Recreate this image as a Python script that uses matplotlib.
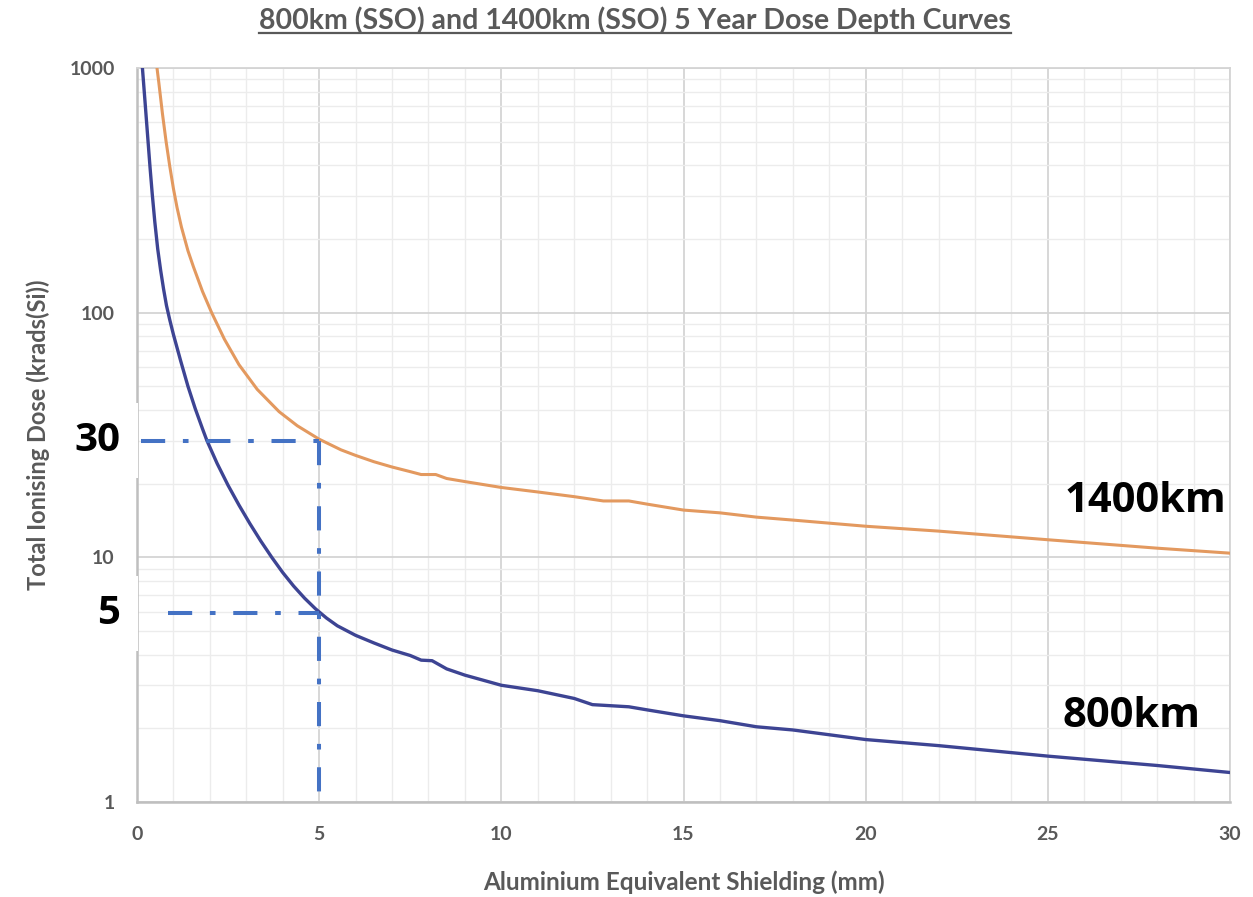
import matplotlib
matplotlib.use("Agg")
import matplotlib.pyplot as plt
import matplotlib.transforms as mtrans
from matplotlib.ticker import FixedLocator, LogLocator, NullFormatter
from matplotlib.lines import Line2D

# ---- data ----
x_800 = [0.15, 0.22, 0.29, 0.36, 0.42, 0.49, 0.57, 0.65, 0.73, 0.81, 0.9, 1.0, 1.2, 1.4,
         1.6, 1.8, 1.92, 2.2, 2.5, 2.8, 3.1, 3.4, 3.7, 4.0, 4.3, 4.6, 4.9, 5.2,
         5.5, 6.0, 6.5, 7.0, 7.5, 7.8, 8.1, 8.5, 9.0, 10, 11, 12, 12.5,
         13.5, 14, 15, 16, 17, 18, 20, 22, 25, 28, 30]
y_800 = [1000, 733, 535, 391, 305, 235, 182, 149, 125, 107, 93.5, 81.5, 63.5, 50,
         40.5, 33.5, 30, 24.2, 19.7, 16.35, 13.73, 11.65, 10.0, 8.67, 7.63, 6.81, 6.16, 5.65,
         5.25, 4.80, 4.47, 4.18, 3.97, 3.8, 3.78, 3.5, 3.3, 3.0, 2.85, 2.65, 2.5,
         2.45, 2.38, 2.25, 2.15, 2.03, 1.97, 1.8, 1.7, 1.54, 1.41, 1.32]

x_1400 = [0.55, 0.6, 0.7, 0.8, 0.9, 1.0, 1.1, 1.22, 1.4, 1.55, 1.8, 2.05, 2.4, 2.8,
          3.3, 3.9, 4.4, 5.0, 5.6, 6.0, 6.5, 7.0, 7.5, 7.8, 8.2, 8.5, 9.0, 10, 11, 12,
          12.8, 13.5, 14, 15, 16, 17, 18, 20, 22, 25, 28, 30]
y_1400 = [1000, 872, 650, 500, 397, 322, 269, 224, 179, 154, 122, 100, 77.9, 61.3,
          48.6, 39.4, 34.5, 30.4, 27.5, 26.1, 24.6, 23.4, 22.4, 21.8, 21.8, 21.0, 20.4, 19.3, 18.5, 17.7,
          17.0, 17.0, 16.5, 15.6, 15.2, 14.6, 14.2, 13.4, 12.8, 11.8, 10.9, 10.4]

ref_levels = [30, 5.9]          # horizontal reference dose levels
ref_starts = [0.1, 0.85]        # where the horizontal dash-dot lines start
ref_labels = ["30", "5"]
ref_x = 5                       # shielding thickness marked

x_ticks = [0, 5, 10, 15, 20, 25, 30]
y_ticks = [1, 10, 100, 1000]
y_ticklabels = ["1", "10", "100", "1000"]

title = "800km (SSO) and 1400km (SSO) 5 Year Dose Depth Curves"
xlabel = "Aluminium Equivalent Shielding (mm)"
ylabel = "Total Ionising Dose (krads(Si))"
series_labels = ["800km", "1400km"]
series_label_pos = [(29.18, 2.02), (29.9, 15.3)]   # right edge / baseline

# ---- style ----
FONT = "Lato"
GREY = "#595959"
BLUE_LINE = "#3d4493"
ORANGE_LINE = "#e3995f"
REF_BLUE = "#4472c4"

fig = plt.figure(figsize=(12.53, 8.97), dpi=100)
ax = fig.add_axes([0.1093, 0.1059, 0.8724, 0.8183])

ax.set_yscale("log")
ax.set_xlim(0, 30)
ax.set_ylim(1, 1000)

ax.xaxis.set_major_locator(FixedLocator(x_ticks))
ax.xaxis.set_minor_locator(FixedLocator(list(range(0, 31))))
ax.yaxis.set_major_locator(FixedLocator(y_ticks))
ax.yaxis.set_minor_locator(LogLocator(base=10, subs=range(2, 10)))
ax.yaxis.set_minor_formatter(NullFormatter())
ax.set_xticklabels([str(t) for t in x_ticks])
ax.set_yticklabels(y_ticklabels)

ax.grid(which="major", color="#d4d4d4", linewidth=1.3)
ax.grid(which="minor", color="#ececec", linewidth=1.0)
ax.set_axisbelow(True)
for s in ax.spines.values():
    s.set_color("#d4d4d4")
    s.set_linewidth(1.3)
ax.spines["left"].set_color("#bfbfbf")
ax.spines["bottom"].set_color("#bfbfbf")
ax.spines["left"].set_linewidth(1.8)
ax.spines["bottom"].set_linewidth(1.8)

ax.tick_params(which="both", length=0)
ax.tick_params(axis="x", pad=17)
ax.tick_params(axis="y", pad=16)
for lab in ax.get_xticklabels() + ax.get_yticklabels():
    lab.set_fontfamily(FONT)
    lab.set_fontweight("bold")
    lab.set_fontsize(14)
    lab.set_color(GREY)

ax.plot(x_1400, y_1400, color=ORANGE_LINE, linewidth=2.2, zorder=3,
        solid_joinstyle="round")
ax.plot(x_800, y_800, color=BLUE_LINE, linewidth=2.4, zorder=3,
        solid_joinstyle="round")

# reference dash-dot lines
dash = (0, (6.0, 4.4, 1.4, 4.4))
for lvl, x0 in zip(ref_levels, ref_starts):
    ax.plot([x0, ref_x], [lvl, lvl], color=REF_BLUE, linewidth=2.9,
            linestyle=dash, dash_capstyle="butt", zorder=4)
ax.plot([ref_x, ref_x], [max(ref_levels), 1], color=REF_BLUE, linewidth=2.9,
        linestyle=dash, dash_capstyle="butt", zorder=4)

# labels for reference values (left of the axis, on white boxes)
lab_tr = mtrans.blended_transform_factory(fig.transFigure, ax.transData)
for lvl, txt in zip(ref_levels, ref_labels):
    ax.text(0.096, lvl, txt, transform=lab_tr, ha="right", va="center",
            fontsize=29, fontweight="bold", family="Open Sans", color="black",
            bbox=dict(facecolor="white", edgecolor="none", pad=13), zorder=5,
            clip_on=False)

# series labels
for txt, (sx, sy) in zip(series_labels, series_label_pos):
    ax.text(sx, sy, txt, ha="right", va="baseline", fontsize=30,
            fontweight="bold", family="Open Sans", color="black", zorder=5)

ax.set_xlabel(xlabel, fontfamily=FONT, fontweight="bold", fontsize=17.5, color=GREY,
              labelpad=20)
ax.set_ylabel(ylabel, fontfamily=FONT, fontweight="bold", fontsize=17, color=GREY,
              labelpad=14)

t = fig.text(0.5065, 0.977, title, ha="center", va="center", fontfamily=FONT,
             fontweight="bold", fontsize=20.5, color=GREY)

# underline the title
fig.canvas.draw()
bb = t.get_window_extent().transformed(fig.transFigure.inverted())
fig.add_artist(Line2D([bb.x0, bb.x1], [bb.y0 + 0.002, bb.y0 + 0.002],
                      transform=fig.transFigure, color=GREY, linewidth=1.6))

fig.savefig("out.png", dpi=100, facecolor="white")
